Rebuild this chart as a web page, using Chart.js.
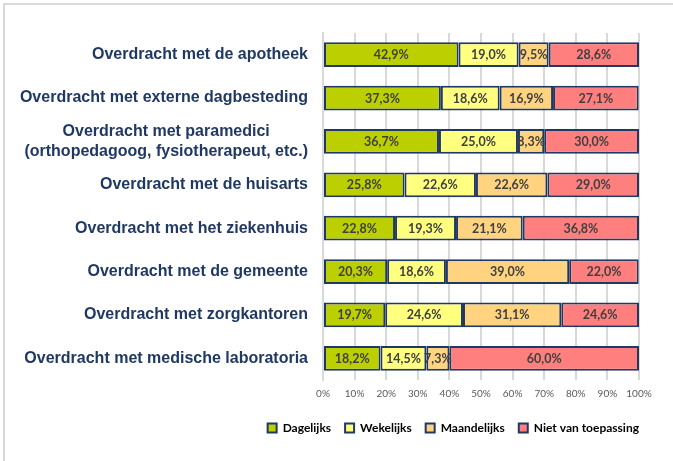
<!DOCTYPE html>
<html>
<head>
<meta charset="utf-8">
<script src="https://cdn.jsdelivr.net/npm/chart.js@4"></script>
<style>
  html, body { margin: 0; padding: 0; background: #fff; }
  #frame { position: absolute; left: 3px; top: 3px; width: 720px; height: 520px;
           border-left: 2px solid #d9d9d9; border-top: 2px solid #d9d9d9; }
  #wrap { position: absolute; left: 0; top: 0; width: 673px; height: 461px; }
</style>
</head>
<body>
<div id="frame"></div>
<div id="wrap"><canvas id="c" width="673" height="461"></canvas></div>
<script>
const categories = [
  ["Overdracht met de apotheek"],
  ["Overdracht met externe dagbesteding"],
  ["Overdracht met paramedici", "(orthopedagoog, fysiotherapeut, etc.)"],
  ["Overdracht met de huisarts"],
  ["Overdracht met het ziekenhuis"],
  ["Overdracht met de gemeente"],
  ["Overdracht met zorgkantoren"],
  ["Overdracht met medische laboratoria"]
];
const seriesNames = ["Dagelijks", "Wekelijks", "Maandelijks", "Niet van toepassing"];
const dagelijks   = [42.9, 37.3, 36.7, 25.8, 22.8, 20.3, 19.7, 18.2];
const wekelijks   = [19.0, 18.6, 25.0, 22.6, 19.3, 18.6, 24.6, 14.5];
const maandelijks = [9.5, 16.9, 8.3, 22.6, 21.1, 39.0, 31.1, 7.3];
const nietVanToepassing = [28.6, 27.1, 30.0, 29.0, 36.8, 22.0, 24.6, 60.0];
const xTicks = [0, 10, 20, 30, 40, 50, 60, 70, 80, 90, 100];

const colors = ["#bccf00", "#ffff80", "#ffd380", "#ff7f7f"];
const border = "#1f3864";

const valueLabels = {
  id: "valueLabels",
  afterDatasetsDraw(chart) {
    const ctx = chart.ctx;
    ctx.save();
    ctx.font = "bold 12.5px Lato, 'Liberation Sans', sans-serif";
    ctx.fillStyle = "#404040";
    ctx.textAlign = "center";
    ctx.textBaseline = "middle";
    chart.data.datasets.forEach((ds, di) => {
      const meta = chart.getDatasetMeta(di);
      meta.data.forEach((el, i) => {
        const v = ds.data[i];
        const x = (el.x + el.base) / 2;
        ctx.fillText(v.toFixed(1).replace(".", ",") + "%", x, el.y + 0.5);
      });
    });
    ctx.restore();
  }
};

const catLabels = {
  id: "catLabels",
  afterDraw(chart) {
    const ctx = chart.ctx;
    const ys = chart.scales.y;
    ctx.save();
    ctx.font = "bold 16px 'Liberation Sans', Arial, sans-serif";
    ctx.fillStyle = "#1f3864";
    ctx.textBaseline = "middle";
    const right = ys.right - 15;
    categories.forEach((lines, i) => {
      const yc = ys.getPixelForValue(i);
      if (lines.length === 1) {
        ctx.textAlign = "right";
        ctx.fillText(lines[0], right, yc);
      } else {
        const widths = lines.map(t => ctx.measureText(t).width);
        const w = Math.max(...widths);
        const cx = right - w / 2;
        const lh = 20;
        ctx.textAlign = "center";
        lines.forEach((t, k) => {
          ctx.fillText(t, cx, yc + (k - (lines.length - 1) / 2) * lh);
        });
      }
    });
    ctx.restore();
  }
};

// shift the library legend so its last entry ends under the 100% gridline
const legendShift = {
  id: "legendShift",
  afterLayout(chart) {
    const lg = chart.legend;
    if (lg) {
      const d = chart.chartArea.right - (lg.right - lg.options.labels.padding);
      lg.left += d;
      lg.right += d;
    }
  }
};

const seriesData = [dagelijks, wekelijks, maandelijks, nietVanToepassing];

new Chart(document.getElementById("c"), {
  type: "bar",
  data: {
    labels: categories,
    datasets: seriesNames.map((n, k) => ({
      label: n,
      data: seriesData[k],
      backgroundColor: colors[k],
      borderColor: border,
      borderWidth: 2,
      borderSkipped: false,
      barPercentage: 0.57,
      categoryPercentage: 1.0
    }))
  },
  options: {
    indexAxis: "y",
    responsive: false,
    animation: false,
    devicePixelRatio: 1,
    layout: { padding: { left: 0, right: 34, top: 33, bottom: 17 } },
    scales: {
      x: {
        stacked: true,
        min: 0, max: 100,
        afterBuildTicks(scale) { scale.ticks = xTicks.map(v => ({ value: v })); },
        grid: { color: "#d9d9d9", lineWidth: 2, drawTicks: false },
        border: { display: false },
        ticks: {
          callback: v => v + "%",
          color: "#595959",
          font: { family: "Lato, 'Liberation Sans', sans-serif", size: 10 },
          padding: 8,
          maxRotation: 0
        }
      },
      y: {
        stacked: true,
        grid: { display: false },
        border: { display: true, color: "#d9d9d9", width: 2 },
        ticks: { display: false },
        afterFit(scale) { scale.width = 323; }
      }
    },
    plugins: {
      legend: {
        position: "bottom",
        align: "end",
        labels: {
          boxWidth: 9,
          boxHeight: 9,
          padding: 14,
          color: "#595959",
          font: { family: "Lato, 'Liberation Sans', sans-serif", size: 12, weight: "bold" },
          generateLabels(chart) {
            return chart.data.datasets.map((ds, i) => ({
              text: ds.label,
              fillStyle: ds.backgroundColor,
              strokeStyle: border,
              lineWidth: 2,
              datasetIndex: i,
              hidden: false
            }));
          }
        }
      },
      tooltip: { enabled: false }
    }
  },
  plugins: [valueLabels, catLabels, legendShift]
});
</script>
</body>
</html>
